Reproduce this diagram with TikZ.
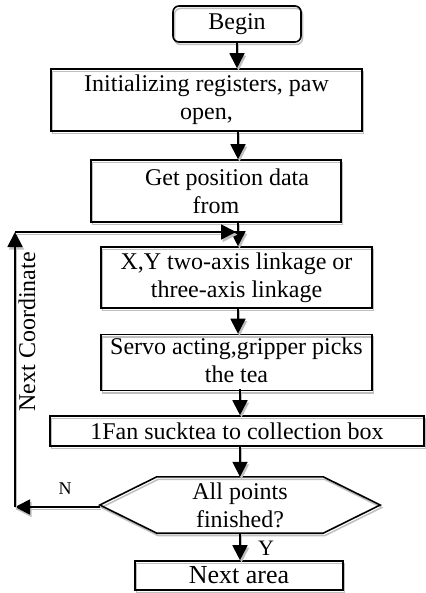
\documentclass[tikz,border=0pt]{standalone}
\usepackage{fontspec}
\setmainfont{Liberation Serif}
\usetikzlibrary{arrows.meta}
\begin{document}
\begin{tikzpicture}[x=1pt,y=-1pt,
  font=\fontsize{24}{28}\selectfont,
  shadowed/.style={preaction={draw=gray!50,line width=1.5pt,transform canvas={shift={(1.5pt,-2.5pt)}}}},
  box/.style={draw,line width=1.6pt,inner sep=0pt,align=center,shadowed},
  arr/.style={line width=1.8pt,-{Triangle[length=15pt,width=15pt]},shadowed},
  lbl/.style={inner sep=0pt},
]
\useasboundingbox (0,0) rectangle (425,593);

\node[box,rounded corners=6pt,minimum width=128pt,minimum height=36pt] (begin) at (237,24) {Begin};
\node[box,minimum width=311pt,minimum height=62pt] (init) at (206.5,100) {Initializing registers, paw\\open,};
\node[box,minimum width=250pt,minimum height=62pt] (get) at (216,191) {\hspace*{22pt}Get position data\\from};
\node[box,minimum width=271pt,minimum height=61pt] (xy) at (236.5,277.5) {X,Y two-axis linkage or\\three-axis linkage};
\node[box,minimum width=271pt,minimum height=53pt] (servo) at (236.5,362.5) {\raisebox{-3pt}{\begin{tabular}{@{}c@{}}Servo acting,gripper picks\\the tea\end{tabular}}};
\node[box,minimum width=374pt,minimum height=30pt] (fan) at (237,431) {1Fan sucktea to collection box};
\node[lbl,minimum width=280pt,minimum height=56pt,align=center] (hex) at (240,505) {All points\\finished?};
\draw[line width=1.6pt,shadowed] (hex.west) -- ([xshift=57pt]hex.north west) -- ([xshift=-57pt]hex.north east)
  -- (hex.east) -- ([xshift=-57pt]hex.south east) -- ([xshift=57pt]hex.south west) -- cycle;
\node[box,minimum width=208pt,minimum height=29pt,font=\fontsize{26}{28}\selectfont] (next) at (239,575.5) {Next area};

% main flow
\draw[arr] (begin.south) -- (begin.south |- init.north);
\draw[arr] (238,131) coordinate (a1) -- (a1 |- get.north);
\draw[arr] (238,222) coordinate (a2) -- (a2 |- xy.north);
\draw[arr] (238,308) coordinate (a3) -- (a3 |- servo.north);
\draw[arr] (240,389) coordinate (a4) -- (a4 |- fan.north);
\draw[arr] (240,446) coordinate (a5) -- (a5 |- hex.north);
\draw[arr] (hex.south) -- (hex.south |- next.north);

% feedback loop
\coordinate (c1) at (15,507);
\coordinate (c2) at (15,232);
\coordinate (c3) at (236,232);
\draw[arr] (hex.west |- c1) -- (c1);
\draw[arr] (c1) -- (c2);
\draw[arr] (c2) -- (c3);

\node[lbl,font=\fontsize{18}{20}\selectfont] (nl) at (65,489) {N};
\node[lbl,font=\fontsize{22}{24}\selectfont] (yl) at (266,548) {Y};
\node[lbl,rotate=90] (nc) at (27,332) {Next Coordinate};
\end{tikzpicture}
\end{document}
